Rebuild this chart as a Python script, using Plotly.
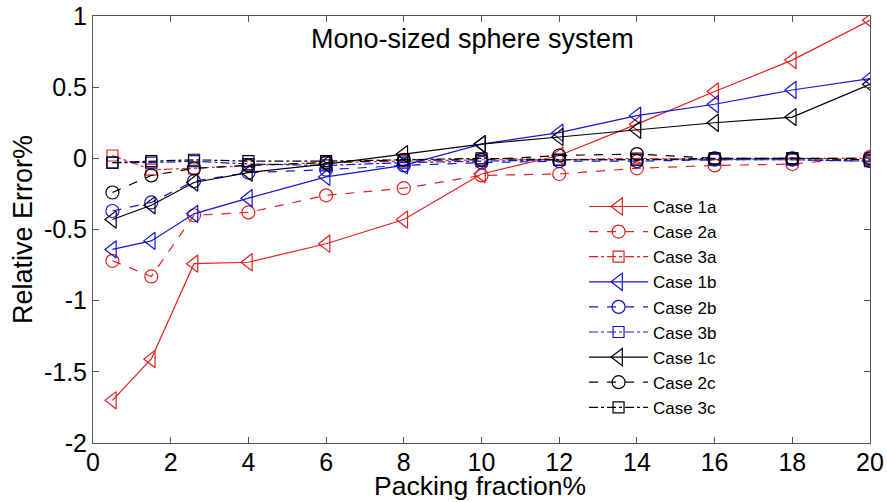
import plotly.graph_objects as go

x = [0.5, 1.5, 2.6, 4, 6, 8, 10, 12, 14, 16, 18, 20]

case_1a = [-1.70, -1.41, -0.74, -0.73, -0.60, -0.43, -0.11, 0.02, 0.24, 0.47, 0.69, 0.97]
case_2a = [-0.72, -0.83, -0.40, -0.38, -0.26, -0.21, -0.12, -0.11, -0.07, -0.05, -0.04, 0.01]
case_3a = [0.02, -0.08, -0.07, -0.05, -0.03, -0.02, -0.01, -0.01, 0.00, -0.01, 0.00, 0.00]
case_1b = [-0.64, -0.58, -0.39, -0.28, -0.13, -0.05, 0.10, 0.18, 0.30, 0.38, 0.48, 0.56]
case_2b = [-0.37, -0.31, -0.16, -0.10, -0.08, -0.05, -0.03, -0.02, -0.02, -0.01, -0.01, -0.02]
case_3b = [-0.03, -0.03, -0.02, -0.04, -0.05, -0.03, -0.02, -0.01, -0.01, -0.01, -0.01, -0.02]
case_1c = [-0.43, -0.33, -0.17, -0.10, -0.04, 0.03, 0.10, 0.15, 0.20, 0.25, 0.29, 0.52]
case_2c = [-0.24, -0.12, -0.07, -0.05, -0.03, -0.01, -0.01, 0.02, 0.03, 0.00, 0.00, 0.00]
case_3c = [-0.03, -0.02, -0.01, -0.02, -0.02, -0.01, 0.00, -0.01, -0.01, 0.00, 0.00, -0.01]

names = ["Case 1a", "Case 2a", "Case 3a", "Case 1b", "Case 2b", "Case 3b",
         "Case 1c", "Case 2c", "Case 3c"]
series = [case_1a, case_2a, case_3a, case_1b, case_2b, case_3b, case_1c, case_2c, case_3c]

x_ticks = [0, 2, 4, 6, 8, 10, 12, 14, 16, 18, 20]
y_ticks = [-2, -1.5, -1, -0.5, 0, 0.5, 1]
y_tick_text = ["-2", "-1.5", "-1", "-0.5", "0", "0.5", "1"]

RED = "rgb(228,32,32)"
BLUE = "rgb(20,20,210)"
BLACK = "rgb(0,0,0)"
colors = [RED, RED, RED, BLUE, BLUE, BLUE, BLACK, BLACK, BLACK]
dashes = ["solid", "dash", "dashdot"] * 3
symbols = ["triangle-left-open", "circle-open", "square-open"] * 3
sizes = [15, 13, 11] * 3

FONT = "Liberation Sans, Arial, sans-serif"

fig = go.Figure()
for n, s, c, d, sym, sz in zip(names, series, colors, dashes, symbols, sizes):
    fig.add_trace(go.Scatter(
        x=x, y=s, name=n, mode="lines+markers",
        line=dict(color=c, width=1.2, dash=d),
        marker=dict(symbol=sym, size=sz, color=c, line=dict(color=c, width=1.2)),
    ))

axis_common = dict(
    showgrid=False, zeroline=False, showline=True, linecolor="#555555", linewidth=1,
    mirror="allticks", ticks="inside", ticklen=6, tickcolor="#555555",
    tickfont=dict(family=FONT, size=25, color="black"), automargin=False,
)

fig.update_xaxes(range=[0, 20], tickvals=x_ticks, ticklabelstandoff=-3, **axis_common)
fig.update_yaxes(range=[-2, 1], tickvals=y_ticks, ticktext=y_tick_text, **axis_common)

fig.add_annotation(text="Packing fraction%", xref="paper", yref="paper",
                   x=(480 - 93) / 777, y=(443 - 503) / 427, xanchor="center", yanchor="bottom",
                   showarrow=False, font=dict(family=FONT, size=26.5, color="black"))
fig.add_annotation(text="Mono-sized sphere system", xref="paper", yref="paper",
                   x=(472 - 93) / 777, y=(443 - 39) / 427, xanchor="center", yanchor="middle",
                   showarrow=False, font=dict(family=FONT, size=27, color="black"))
fig.add_annotation(text="Relative Error%", xref="paper", yref="paper", textangle=-90,
                   x=(23 - 93) / 777, y=(443 - 230) / 427, xanchor="center", yanchor="middle",
                   showarrow=False, font=dict(family=FONT, size=27, color="black"))

fig.update_layout(
    width=887, height=502, autosize=False,
    margin=dict(l=93, r=17, t=16, b=59, pad=0),
    plot_bgcolor="white", paper_bgcolor="white",
    showlegend=True,
    legend=dict(x=0.632, y=0.595, xanchor="left", yanchor="top",
                bgcolor="rgba(255,255,255,0)", borderwidth=0,
                font=dict(family=FONT, size=17, color="black"),
                itemwidth=59, tracegroupgap=0),
)

fig.write_html("out.html", config={"responsive": False, "displayModeBar": False},
               post_script="document.body.style.margin='0';document.body.style.overflow='hidden';")
